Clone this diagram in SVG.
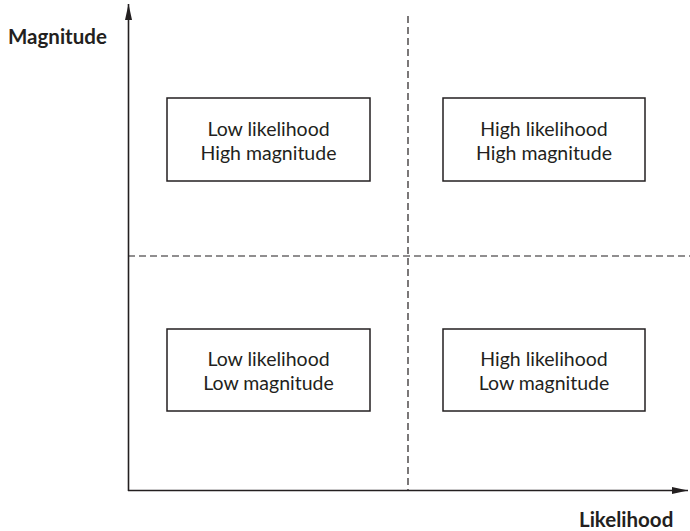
<svg xmlns="http://www.w3.org/2000/svg" width="690" height="531" viewBox="0 0 690 531">
<style>
.box{fill:#fff;stroke:#231f20;stroke-width:1.5}
.t{font-family:Lato,"Open Sans",sans-serif;font-size:19.5px;fill:#231f20;text-anchor:middle}
.ax{font-family:Lato,"Open Sans",sans-serif;font-size:20.5px;font-weight:bold;fill:#231f20}
.axis{stroke:#231f20;stroke-width:1.6;fill:none}
.dash{stroke:#231f20;stroke-width:1.2;stroke-dasharray:7,4;fill:none}
</style>
<defs>
<marker id="arr" viewBox="0 0 16 8" refX="16" refY="4" markerWidth="16" markerHeight="8" orient="auto" markerUnits="userSpaceOnUse">
<path d="M0,0.5 L16,4 L0,7.5 z" fill="#231f20"/>
</marker>
</defs>
<g id="connectors">
<line class="axis" x1="128.5" y1="491" x2="128.5" y2="4" marker-end="url(#arr)"/>
<line class="axis" x1="128" y1="490.5" x2="688" y2="490.5" marker-end="url(#arr)"/>
<line class="dash" x1="408" y1="16" x2="408" y2="490"/>
<line class="dash" x1="128" y1="256" x2="690" y2="256"/>
</g>
<g id="label-magnitude"><text class="ax" x="8" y="44">Magnitude</text></g>
<g id="label-likelihood"><text class="ax" x="579" y="527">Likelihood</text></g>
<g id="box-low-high">
<rect class="box" x="167" y="98" width="203" height="83"/>
<text class="t" x="268.5" y="136">Low likelihood</text>
<text class="t" x="268.5" y="160">High magnitude</text>
</g>
<g id="box-high-high">
<rect class="box" x="443" y="98" width="202" height="83"/>
<text class="t" x="544" y="136">High likelihood</text>
<text class="t" x="544" y="160">High magnitude</text>
</g>
<g id="box-low-low">
<rect class="box" x="167" y="329" width="203" height="82"/>
<text class="t" x="268.5" y="366">Low likelihood</text>
<text class="t" x="268.5" y="390">Low magnitude</text>
</g>
<g id="box-high-low">
<rect class="box" x="443" y="329" width="202" height="82"/>
<text class="t" x="544" y="366">High likelihood</text>
<text class="t" x="544" y="390">Low magnitude</text>
</g>
</svg>
